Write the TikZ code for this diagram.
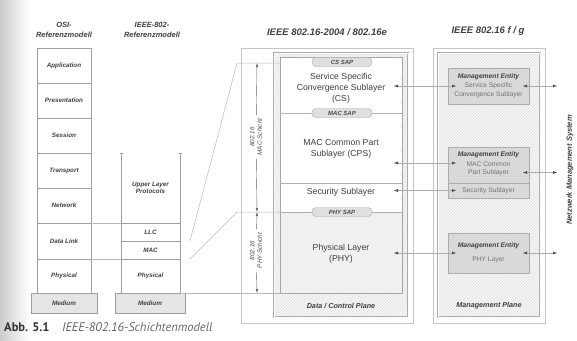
\documentclass[tikz,border=0pt]{standalone}
\usepackage{fontspec}
\setmainfont{Liberation Sans}
\newfontfamily\capfont{PT Sans}
\usetikzlibrary{arrows.meta,patterns}
\newcommand\mehead[1]{{\color{black!75}\bfseries\itshape #1}}

\begin{document}
\begin{tikzpicture}[x=1pt,y=-1pt,
    lay/.style={draw=gray!75,line width=0.6pt,minimum width=54pt,minimum height=35pt,inner sep=0pt,outer sep=0pt,
      text=black!75,font=\fontsize{6.3}{7.5}\selectfont\bfseries\itshape},
    med/.style={lay,fill=gray!20,minimum height=20pt},
    ttl/.style={align=center,text=black!75,font=\fontsize{7.5}{10}\selectfont\bfseries\itshape},
    bigttl/.style={ttl,font=\fontsize{9.5}{10}\selectfont\bfseries\itshape},
    guide/.style={draw=gray!55,line width=0.5pt},
    post/.style={draw=gray!75,line width=0.6pt,-{Bar[width=3pt]}},
    plane/.style={draw=gray!65,double=white,double distance=0.8pt,preaction={fill=gray!6},
      pattern=north east lines,pattern color=gray!25,minimum height=264pt,outer sep=0pt},
    sap/.style={draw=gray!65,fill=gray!25,rounded corners=4pt,minimum width=60pt,minimum height=9pt,
      inner sep=0pt,text=black!70,font=\fontsize{6}{6.5}\selectfont\bfseries\itshape},
    lt/.style={align=center,text=black!75,font=\fontsize{8.7}{10.8}\selectfont},
    pl/.style={text=black!75,font=\fontsize{7.2}{8}\selectfont\bfseries\itshape},
    brl/.style={rotate=90,align=center,text=black!70,font=\fontsize{6.3}{7.5}\selectfont\itshape},
    dim/.style={draw=black!60,-{Latex[length=4pt,width=2.5pt]}},
    me/.style={draw=gray!65,line width=0.8pt,fill=gray!30,minimum width=81pt,inner sep=0pt,outer sep=0pt,
      align=center,text=black!55,font=\fontsize{6.7}{9}\selectfont},
    metext/.style={align=center,inner sep=0pt,outer sep=0pt,text=black!55,font=\fontsize{6.7}{8.5}\selectfont},
    link/.style={draw=gray!65,{Latex[length=4pt,width=3pt,color=black!70]}-{Latex[length=4pt,width=3pt,color=black!70]},
      shorten <=-8pt,shorten >=-8pt},
    nmslink/.style={link,shorten <=-6pt,shorten >=0pt},
    nms/.style={rotate=90,text=black!75,font=\fontsize{7.5}{8}\selectfont\bfseries\itshape}]
  \useasboundingbox (0,0) rectangle (577,340);
  \shade[left color=gray!40,right color=white] (0,0) rectangle (30,340);

  % OSI
  \node[ttl] (osittl) at (64,30) {OSI-\\Referenzmodell};
  \node[lay] (app) at (64,65.5) {Application};
  \node[lay] (pres) at (64,100.5) {Presentation};
  \node[lay] (sess) at (64,135.5) {Session};
  \node[lay] (trans) at (64,170.5) {Transport};
  \node[lay] (net) at (64,205.5) {Network};
  \node[lay,minimum height=36pt] (dl) at (64,241) {Data Link};
  \node[lay,minimum height=34pt] (phys) at (64,276) {Physical};
  \node[med,minimum width=66pt] (osimed) at (64,303) {Medium};

  % IEEE 802
  \node[ttl] (ieeettl) at (152,30) {IEEE-802-\\Referenzmodell};
  \node[lay,draw=none,align=center] (ulp) at (150.5,188) {Upper Layer\\Protocols};
  \node[lay,minimum width=59pt,minimum height=18pt] (llc) at (150.5,232) {LLC};
  \node[lay,minimum width=59pt,minimum height=18pt] (mac) at (150.5,250) {MAC};
  \node[lay,minimum width=59pt,minimum height=34pt] (ieeephy) at (150.5,276) {Physical};
  \node[med,minimum width=70pt] (ieeemed) at (150,303) {Medium};
  \draw[post] (llc.north west) -- (121,153);
  \draw[post] (llc.north east) -- (180,153);
  \draw[guide] (dl.north east) -- (llc.north west);
  \draw[guide] (dl.south east) -- (mac.south west);

  % IEEE 802.16-2004 / 802.16e
  \node[bigttl] (stdttl) at (327,32) {IEEE 802.16-2004 / 802.16e};
  \node[draw=gray!45,minimum width=172pt,minimum height=275pt,outer sep=0pt] (std) at (327,185.5) {};
  \node[plane,minimum width=134pt] (dcp) at (341,185) {};
  \fill[white] (280,57) rectangle (402,212);
  \fill[gray!12] (280,212) rectangle (402,293);
  \node[draw=gray!70,line width=0.6pt,minimum width=122pt,minimum height=236pt,outer sep=0pt] (layers) at (341,175) {};
  \draw[gray!60] (280,113) -- (402,113);
  \draw[gray!60] (280,183) -- (402,183);
  \draw[gray!60] (280,212) -- (402,212);
  \node[sap] (cssap) at (342,62) {CS SAP};
  \node[sap] (macsap) at (342,113) {MAC SAP};
  \node[sap] (physap) at (342,212) {PHY SAP};
  \node[lt] (cs) at (341,88) {Service Specific\\Convergence Sublayer\\(CS)};
  \node[lt] (cps) at (341,148.5) {MAC Common Part\\Sublayer (CPS)};
  \node[lt] (sec) at (341,192) {Security Sublayer};
  \node[lt] (phyl) at (341,253.5) {Physical Layer\\(PHY)};
  \node[pl] (dcpl) at (341,306) {Data / Control Plane};

  % 802.16 MAC / PHY brackets
  \coordinate (brx) at (257,0);
  \coordinate (macT) at (280,63);
  \coordinate (macB) at (280,212);
  \coordinate (phyB) at (280,293);
  \node[brl] (macbr) at (256,137) {802.16\\MAC-Schicht};
  \node[brl] (phybr) at (256,250.5) {802.16\\PHY-Schicht};
  \draw[dim] (macbr) -- (brx |- macT);
  \draw[dim] (macbr) -- (brx |- macB);
  \draw[dim] (phybr) -- (brx |- macB);
  \draw[dim] (phybr) -- (brx |- phyB);
  \draw[guide] ([xshift=10pt]mac.north east) -- (237,63) -- (macT);
  \draw[guide] ([xshift=10pt]mac.south east) -- (237,212) -- (macB);
  \draw[guide] (ieeephy.south east) -- (phyB);

  % IEEE 802.16 f / g
  \node[bigttl] (mgtttl) at (488,31) {IEEE 802.16 f / g};
  \node[draw=gray!45,minimum width=112pt,minimum height=275pt,outer sep=0pt] (mgt) at (489,185.5) {};
  \node[plane,minimum width=102pt] (mgp) at (489,185) {};
  \node[pl] (mgpl) at (489,306) {Management Plane};

  \node[me,minimum height=36pt] (mecs) at (488.5,86) {\mehead{Management Entity}\\Service Specific\\Convergence Sublayer};
  \node[me,minimum height=51pt] (memac) at (488.5,172.5) {};
  \node[metext] (mehd) at (488.5,155) {\mehead{Management Entity}};
  \node[metext] (mecps) at (488.5,169) {MAC Common\\Part Sublayer};
  \node[metext,minimum width=81pt,minimum height=15pt] (mesec) at (488.5,190.5) {Security Sublayer};
  \draw[gray!65,line width=0.7pt] (mesec.north west) -- (mesec.north east);
  \node[me,minimum height=40pt] (mephy) at (488.5,253) {\mehead{Management Entity}\\[5pt]PHY Layer};

  % connectors
  \coordinate (csR) at (402,86);
  \coordinate (cpsR) at (402,163);
  \coordinate (secR) at (402,190.5);
  \coordinate (phyR) at (402,253);
  \draw[link] (csR) -- (mecs.west);
  \draw[link] (cpsR) -- (cpsR -| memac.west);
  \draw[link] (secR) -- (secR -| memac.west);
  \draw[link] (phyR) -- (mephy.west);

  \coordinate (nmsA) at (557,86);
  \coordinate (nmsB) at (557,172.5);
  \coordinate (nmsC) at (557,253);
  \draw[nmslink] (mecs.east) -- (nmsA);
  \draw[nmslink] (memac.east) -- (nmsB);
  \draw[nmslink] (mephy.east) -- (nmsC);
  \node[nms] (nms) at (570,170) {Netzwerk Management System};

  % caption
  \node[anchor=west,inner sep=0pt,font=\capfont\fontsize{12.5}{13}\selectfont] (cap) at (4,327)
    {\textcolor{black!80}{\bfseries Abb. 5.1}\quad\textcolor{black!60}{\itshape IEEE-802.16-Schichtenmodell}};
\end{tikzpicture}
\end{document}
